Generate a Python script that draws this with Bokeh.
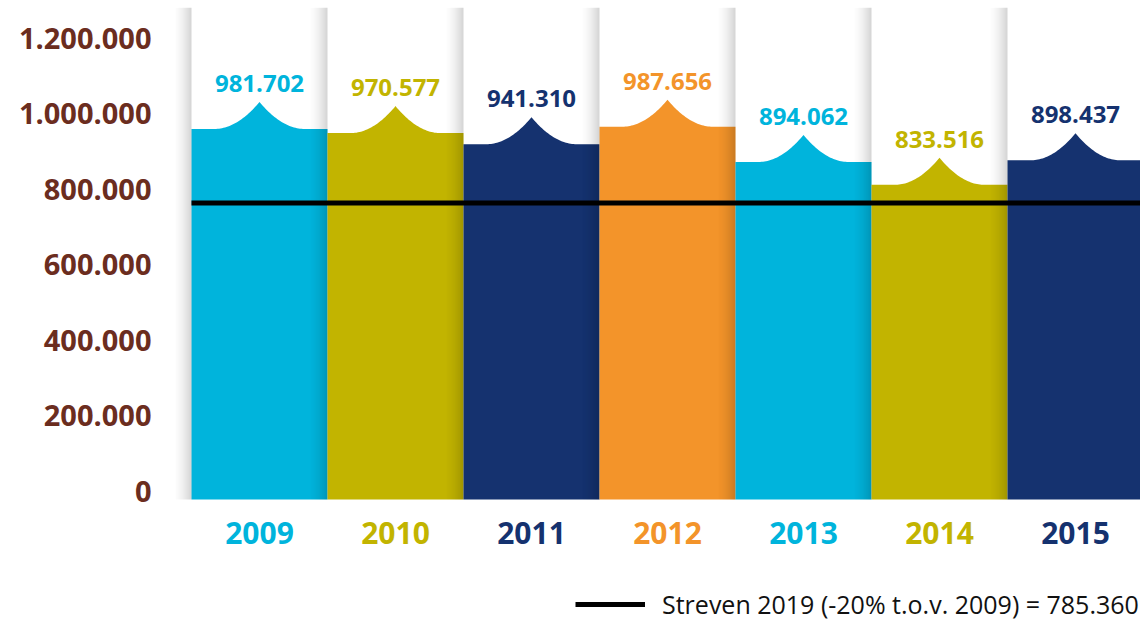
import numpy as np
from bokeh.plotting import figure
from bokeh.models import (ColumnDataSource, FixedTicker, Legend, LegendItem, Range1d,
                          LinearAxis)
from bokeh.core.properties import value
from bokeh.embed import file_html
from bokeh.resources import INLINE

# ---------------- data ----------------
years = ["2009", "2010", "2011", "2012", "2013", "2014", "2015"]
totals = [981702, 970577, 941310, 987656, 894062, 833516, 898437]
bar_colors = ["#00b4dc", "#c2b400", "#15326f", "#f3942a", "#00b4dc", "#c2b400", "#15326f"]
target = 785360
target_label = "Streven 2019 (-20% t.o.v. 2009) = 785.360"
y_ticks = [0, 200000, 400000, 600000, 800000, 1000000, 1200000]
y_tick_labels = ["0", "200.000", "400.000", "600.000", "800.000", "1.000.000", "1.200.000"]

FONT = "Open Sans"
BROWN = "#6b2d1f"

# ---------------- layout / scales ----------------
PW, PH = 1140, 621
px_per_val = 75.5 / 200000.0          # vertical scale
px_per_bar = 136.0                    # horizontal scale
frame_left_px, frame_right_px = 175, 1140
frame_top_px, frame_bottom_px, zero_px = 7, 621, 499

y_end = (zero_px - frame_top_px) / px_per_val
y_start = -(frame_bottom_px - zero_px) / px_per_val
x_start = -0.5 - (191 - frame_left_px) / px_per_bar
x_end = x_start + (frame_right_px - frame_left_px) / px_per_bar
label_lift = 8.5 / px_per_val          # tick labels sit slightly above the bar baseline

p = figure(width=PW, height=PH, output_backend="svg", toolbar_location=None,
           x_range=Range1d(x_start, x_end), y_range=Range1d(y_start, y_end),
           min_border_left=frame_left_px, min_border_right=0,
           min_border_top=frame_top_px, min_border_bottom=0,
           x_axis_location=None, y_axis_location=None)
p.background_fill_color = "white"
p.border_fill_color = "white"
p.outline_line_color = None
p.grid.visible = False

p.extra_y_ranges = {"axis": Range1d(y_start - label_lift, y_end - label_lift)}
yax = LinearAxis(y_range_name="axis")
yax.ticker = FixedTicker(ticks=y_ticks)
yax.major_label_overrides = {t: l for t, l in zip(y_ticks, y_tick_labels)}
yax.axis_line_color = None
yax.major_tick_line_color = None
yax.minor_tick_line_color = None
yax.major_label_text_font = FONT
yax.major_label_text_font_style = "bold"
yax.major_label_text_font_size = "29px"
yax.major_label_text_color = BROWN
yax.major_label_standoff = 18
p.add_layout(yax, "left")

# ---------------- bars with spiked tops ----------------
spike_w = 45 / px_per_bar
spike_h = 27 / px_per_val
xs_list, ys_list = [], []
t = np.linspace(-spike_w, spike_w, 61)
for i, v in enumerate(totals):
    curve_y = v + spike_h * (1 - np.abs(t) / spike_w) ** 2
    xs = [i - 0.5, i - 0.5] + list(i + t) + [i + 0.5, i + 0.5]
    ys = [0, v] + list(curve_y) + [v, 0]
    xs_list.append(xs)
    ys_list.append(ys)
p.patches(xs_list, ys_list, fill_color=bar_colors, line_color=None)

# ---------------- column shadows ----------------
sl, sr, sa = [], [], []
n_strips = 20
for e in range(len(years)):
    edge = e - 0.5
    for k in range(n_strips):
        sl.append(edge - (n_strips - k) / px_per_bar)
        sr.append(edge - (n_strips - k - 1) / px_per_bar)
        sa.append(0.17 * ((k + 1) / n_strips) ** 1.8)
p.quad(left=sl, right=sr, bottom=0, top=y_end, fill_color="black",
       fill_alpha=sa, line_color=None)

# ---------------- target line ----------------
tl = p.line([-0.5, len(years) - 0.5], [target, target], line_color="black", line_width=5)

# ---------------- value labels ----------------
xpos = list(range(len(years)))
val_src = ColumnDataSource(dict(
    x=xpos,
    y=[v + spike_h for v in totals],
    txt=[f"{v:,}".replace(",", ".") for v in totals],
    col=bar_colors,
))
p.text(x="x", y="y", text="txt", source=val_src, text_color="col",
       text_font=value(FONT), text_font_style="bold", text_font_size="24px",
       text_align="center", text_baseline="bottom", y_offset=-10)

# ---------------- year labels ----------------
yr_src = ColumnDataSource(dict(x=xpos, y=[0] * len(years), txt=years, col=bar_colors))
p.text(x="x", y="y", text="txt", source=yr_src, text_color="col",
       text_font=value(FONT), text_font_style="bold", text_font_size="30px",
       text_align="center", text_baseline="middle", y_offset=33)

# ---------------- legend ----------------
legend = Legend(items=[LegendItem(label=target_label, renderers=[tl])],
                location=(400, 0), padding=0, margin=0, spacing=0,
                glyph_width=70, glyph_height=26, label_height=26,
                label_standoff=17, border_line_alpha=0, background_fill_alpha=0,
                label_text_font=FONT, label_text_font_size="25px",
                label_text_color="#111111")
p.add_layout(legend)

open("out.html", "w").write(file_html(p, INLINE))
